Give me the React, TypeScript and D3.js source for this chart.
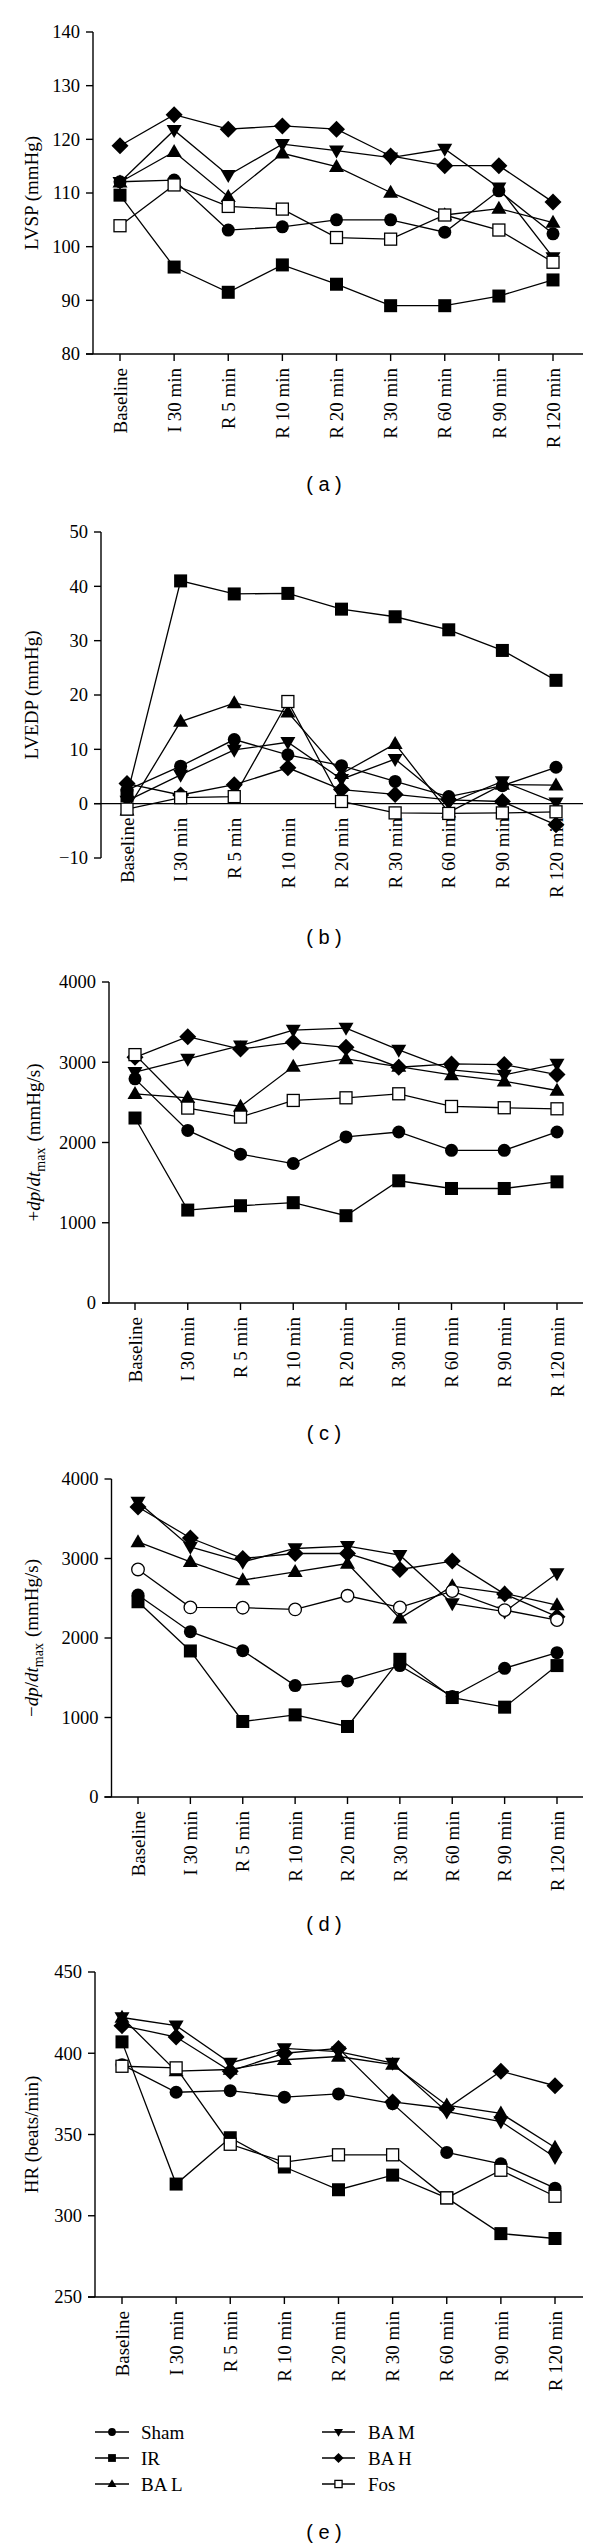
import React from 'react';
import * as d3 from 'd3';

const categories = ['Baseline', 'I 30 min', 'R 5 min', 'R 10 min', 'R 20 min', 'R 30 min', 'R 60 min', 'R 90 min', 'R 120 min'];
const seriesNames = ['Sham', 'IR', 'BA L', 'BA M', 'BA H', 'Fos'];
const seriesShapes = ['circle', 'square', 'triUp', 'triDown', 'diamond', 'openSquare'];

// (a) LVSP (mmHg)
const lvspSham = [112.1, 112.4, 103.1, 103.7, 105.0, 105.0, 102.7, 110.4, 102.4];
const lvspIR = [109.6, 96.2, 91.5, 96.6, 93.0, 89.0, 89.0, 90.8, 93.8];
const lvspBAL = [112.0, 117.7, 109.3, 117.4, 114.9, 110.1, 105.9, 107.1, 104.5];
const lvspBAM = [112.0, 121.7, 113.3, 119.1, 117.9, 116.6, 118.2, 111.0, 98.0];
const lvspBAH = [118.8, 124.6, 121.9, 122.5, 121.9, 116.9, 115.1, 115.1, 108.3];
const lvspFos = [103.9, 111.5, 107.5, 107.0, 101.7, 101.4, 105.9, 103.1, 97.1];
const lvspTicks = [80, 90, 100, 110, 120, 130, 140];

// (b) LVEDP (mmHg)
const lvedpSham = [2.5, 6.9, 11.8, 9.0, 7.0, 4.1, 1.3, 3.3, 6.7];
const lvedpIR = [1.5, 41.0, 38.6, 38.7, 35.8, 34.4, 32.0, 28.2, 22.7];
const lvedpBAL = [-1.2, 15.1, 18.5, 16.8, 5.5, 11.0, -1.6, 3.5, 3.4];
const lvedpBAM = [0.5, 5.3, 9.9, 11.3, 4.5, 8.2, 0.1, 4.1, 0.2];
const lvedpBAH = [3.7, 1.6, 3.5, 6.6, 2.6, 1.7, 0.7, 0.4, -3.9];
const lvedpFos = [-1.0, 1.1, 1.3, 18.8, 0.4, -1.7, -1.8, -1.7, -1.5];
const lvedpTicks = [-10, 0, 10, 20, 30, 40, 50];

// (c) +dp/dt max (mmHg/s)
const posSham = [2793, 2151, 1854, 1738, 2069, 2131, 1903, 1903, 2131];
const posIR = [2305, 1158, 1212, 1250, 1088, 1523, 1427, 1427, 1510];
const posBAL = [2607, 2557, 2449, 2946, 3041, 2946, 2842, 2764, 2648];
const posBAM = [2876, 3041, 3206, 3401, 3426, 3153, 2904, 2842, 2979];
const posBAH = [3062, 3318, 3165, 3248, 3186, 2938, 2979, 2971, 2846];
const posFos = [3095, 2429, 2317, 2524, 2557, 2607, 2449, 2433, 2420];
const dpTicks = [0, 1000, 2000, 3000, 4000];

// (d) -dp/dt max (mmHg/s)
const negSham = [2540, 2079, 1841, 1402, 1460, 1653, 1264, 1619, 1816];
const negIR = [2456, 1837, 950, 1033, 887, 1732, 1251, 1130, 1653];
const negBAL = [3208, 2958, 2728, 2833, 2937, 2247, 2653, 2561, 2414];
const negBAM = [3711, 3145, 2958, 3126, 3155, 3042, 2435, 2331, 2812];
const negBAH = [3648, 3258, 3000, 3063, 3063, 2862, 2967, 2552, 2268];
const negFos = [2862, 2385, 2381, 2360, 2531, 2385, 2590, 2351, 2226];

// (e) HR (beats/min)
const hrSham = [393, 376, 377, 373, 375, 369, 339, 332, 317];
const hrIR = [407, 319.5, 348, 330, 316, 325, 311, 289, 286];
const hrBAL = [422, 389, 390, 396, 398, 393, 368, 363, 342];
const hrBAM = [422, 417, 394, 403, 401, 394, 364, 358, 336];
const hrBAH = [417, 410, 389, 400, 403, 370, 366, 389, 380];
const hrFos = [392, 391, 344, 333, 337.5, 337.5, 311, 328, 312];
const hrTicks = [250, 300, 350, 400, 450];

const SERIF = '"Liberation Serif", "Times New Roman", serif';
const SANS = '"Liberation Sans", Arial, sans-serif';

type Panel = {
  key: string;
  series: number[][];
  ticks: number[];
  domain: [number, number];
  yTop: number;
  yBot: number;
  axisX: number;
  cat0: number;
  cat8: number;
  xEnd: number;
  titleX: number;
  label: string;
  labelY: number;
  zeroAxis: boolean;
  fosCircle: boolean;
  title: React.ReactNode;
};

const panels: Panel[] = [
  {
    key: 'a', series: [lvspSham, lvspIR, lvspBAL, lvspBAM, lvspBAH, lvspFos], ticks: lvspTicks,
    domain: [80, 140], yTop: 32, yBot: 354, axisX: 93, cat0: 120, cat8: 553, xEnd: 583, titleX: 31,
    label: '( a )', labelY: 484, zeroAxis: false, fosCircle: false, title: 'LVSP (mmHg)',
  },
  {
    key: 'b', series: [lvedpSham, lvedpIR, lvedpBAL, lvedpBAM, lvedpBAH, lvedpFos], ticks: lvedpTicks,
    domain: [-10, 50], yTop: 532, yBot: 858, axisX: 101, cat0: 127, cat8: 556, xEnd: 583, titleX: 31,
    label: '( b )', labelY: 937, zeroAxis: true, fosCircle: false, title: 'LVEDP (mmHg)',
  },
  {
    key: 'c', series: [posSham, posIR, posBAL, posBAM, posBAH, posFos], ticks: dpTicks,
    domain: [0, 4000], yTop: 982, yBot: 1303, axisX: 109, cat0: 135, cat8: 557, xEnd: 583, titleX: 33,
    label: '( c )', labelY: 1433, zeroAxis: false, fosCircle: false,
    title: (
      <>
        <tspan>+</tspan>
        <tspan fontStyle="italic">dp</tspan>
        <tspan>/</tspan>
        <tspan fontStyle="italic">dt</tspan>
        <tspan fontSize={14} dy={5}>max</tspan>
        <tspan dy={-5} dx={6}>(mmHg/s)</tspan>
      </>
    ),
  },
  {
    key: 'd', series: [negSham, negIR, negBAL, negBAM, negBAH, negFos], ticks: dpTicks,
    domain: [0, 4000], yTop: 1479, yBot: 1797, axisX: 111.5, cat0: 138, cat8: 557, xEnd: 583, titleX: 31,
    label: '( d )', labelY: 1924, zeroAxis: false, fosCircle: true,
    title: (
      <>
        <tspan>−</tspan>
        <tspan fontStyle="italic">dp</tspan>
        <tspan>/</tspan>
        <tspan fontStyle="italic">dt</tspan>
        <tspan fontSize={14} dy={5}>max</tspan>
        <tspan dy={-5} dx={6}>(mmHg/s)</tspan>
      </>
    ),
  },
  {
    key: 'e', series: [hrSham, hrIR, hrBAL, hrBAM, hrBAH, hrFos], ticks: hrTicks,
    domain: [250, 450], yTop: 1972, yBot: 2297, axisX: 95, cat0: 122, cat8: 555, xEnd: 583, titleX: 31,
    label: '( e )', labelY: 2532, zeroAxis: false, fosCircle: false, title: 'HR (beats/min)',
  },
];

function Marker({ shape, x, y, s = 1 }: { shape: string; x: number; y: number; s?: number }) {
  const t = `translate(${x},${y})`;
  if (shape === 'circle') return <circle cx={x} cy={y} r={6.5 * s} fill="#000" />;
  if (shape === 'openCircle') return <circle cx={x} cy={y} r={6.3 * s} fill="#fff" stroke="#000" strokeWidth={1.3} />;
  if (shape === 'square') {
    const a = 13 * s;
    return <rect x={x - a / 2} y={y - a / 2} width={a} height={a} fill="#000" />;
  }
  if (shape === 'openSquare') {
    const a = 12 * s;
    return <rect x={x - a / 2} y={y - a / 2} width={a} height={a} fill="#fff" stroke="#000" strokeWidth={1.3} />;
  }
  if (shape === 'triUp' || shape === 'triDown') {
    const w = 15 * s, h = 13 * s;
    const d = `M0,${-h * 0.6}L${w / 2},${h * 0.4}L${-w / 2},${h * 0.4}Z`;
    return <path d={d} transform={shape === 'triDown' ? `${t} rotate(180)` : t} fill="#000" />;
  }
  const r = 8.5 * s;
  return <path d={`M0,${-r}L${r},0L0,${r}L${-r},0Z`} transform={t} fill="#000" />;
}

function PanelView({ p }: { p: Panel }) {
  const x = d3.scalePoint<string>().domain(categories).range([p.cat0, p.cat8]);
  const y = d3.scaleLinear().domain(p.domain).range([p.yBot, p.yTop]);
  const line = d3.line<number>().x((_, i) => x(categories[i]) as number).y((v) => y(v));
  const axisY = p.zeroAxis ? y(0) : p.yBot;
  const midY = (p.yTop + p.yBot) / 2;
  return (
    <g>
      {/* y axis */}
      <line x1={p.axisX} x2={p.axisX} y1={p.yTop} y2={p.yBot} stroke="#000" strokeWidth={1.4} />
      {p.ticks.map((t) => (
        <g key={t}>
          <line x1={p.axisX - 7} x2={p.axisX} y1={y(t)} y2={y(t)} stroke="#000" strokeWidth={1.4} />
          <text x={p.axisX - 13} y={y(t)} dy="0.35em" textAnchor="end" fontFamily={SERIF} fontSize={18.5}>
            {t < 0 ? `−${Math.abs(t)}` : t}
          </text>
        </g>
      ))}
      {/* x axis */}
      <line x1={p.axisX - 7} x2={p.xEnd} y1={axisY} y2={axisY} stroke="#000" strokeWidth={1.4} />
      {categories.map((c) => (
        <g key={c}>
          {!p.zeroAxis && (
            <line x1={x(c)} x2={x(c)} y1={axisY} y2={axisY + 7} stroke="#000" strokeWidth={1.4} />
          )}
          <text
            transform={`translate(${x(c)},${axisY + 14}) rotate(-90)`}
            dy="0.35em"
            textAnchor="end"
            fontFamily={SERIF}
            fontSize={19}
          >
            {c}
          </text>
        </g>
      ))}
      {/* y title */}
      <text
        transform={`translate(${p.titleX},${midY}) rotate(-90)`}
        dy="0.35em"
        textAnchor="middle"
        fontFamily={SERIF}
        fontSize={19}
      >
        {p.title}
      </text>
      {/* lines */}
      {p.series.map((s, i) => (
        <path key={`l${i}`} d={line(s) || ''} fill="none" stroke="#000" strokeWidth={1.3} />
      ))}
      {/* markers */}
      {p.series.map((s, i) =>
        s.map((v, j) => (
          <Marker
            key={`m${i}-${j}`}
            shape={i === 5 && p.fosCircle ? 'openCircle' : seriesShapes[i]}
            x={x(categories[j]) as number}
            y={y(v)}
          />
        ))
      )}
      <text x={324} y={p.labelY} dy="0.35em" textAnchor="middle" fontFamily={SANS} fontSize={20}>
        {p.label}
      </text>
    </g>
  );
}

const legendRows = [2432, 2458, 2484];

function Legend() {
  return (
    <g>
      {seriesNames.map((name, i) => {
        const col = Math.floor(i / 3);
        const row = i % 3;
        const yy = legendRows[row];
        const x1 = col === 0 ? 95 : 322;
        const x2 = col === 0 ? 129 : 355;
        const tx = col === 0 ? 141 : 368;
        return (
          <g key={name}>
            <line x1={x1} x2={x2} y1={yy} y2={yy} stroke="#000" strokeWidth={1.3} />
            <Marker shape={seriesShapes[i]} x={(x1 + x2) / 2} y={yy} s={0.6} />
            <text x={tx} y={yy} dy="0.35em" fontFamily={SERIF} fontSize={19}>
              {name}
            </text>
          </g>
        );
      })}
    </g>
  );
}

export default function App() {
  return (
    <svg
      width={600}
      height={2547}
      viewBox="0 0 600 2547"
      style={{ position: 'absolute', left: 0, top: 0, background: '#fff' }}
    >
      <rect x={0} y={0} width={600} height={2547} fill="#fff" />
      {panels.map((p) => (
        <PanelView key={p.key} p={p} />
      ))}
      <Legend />
    </svg>
  );
}
